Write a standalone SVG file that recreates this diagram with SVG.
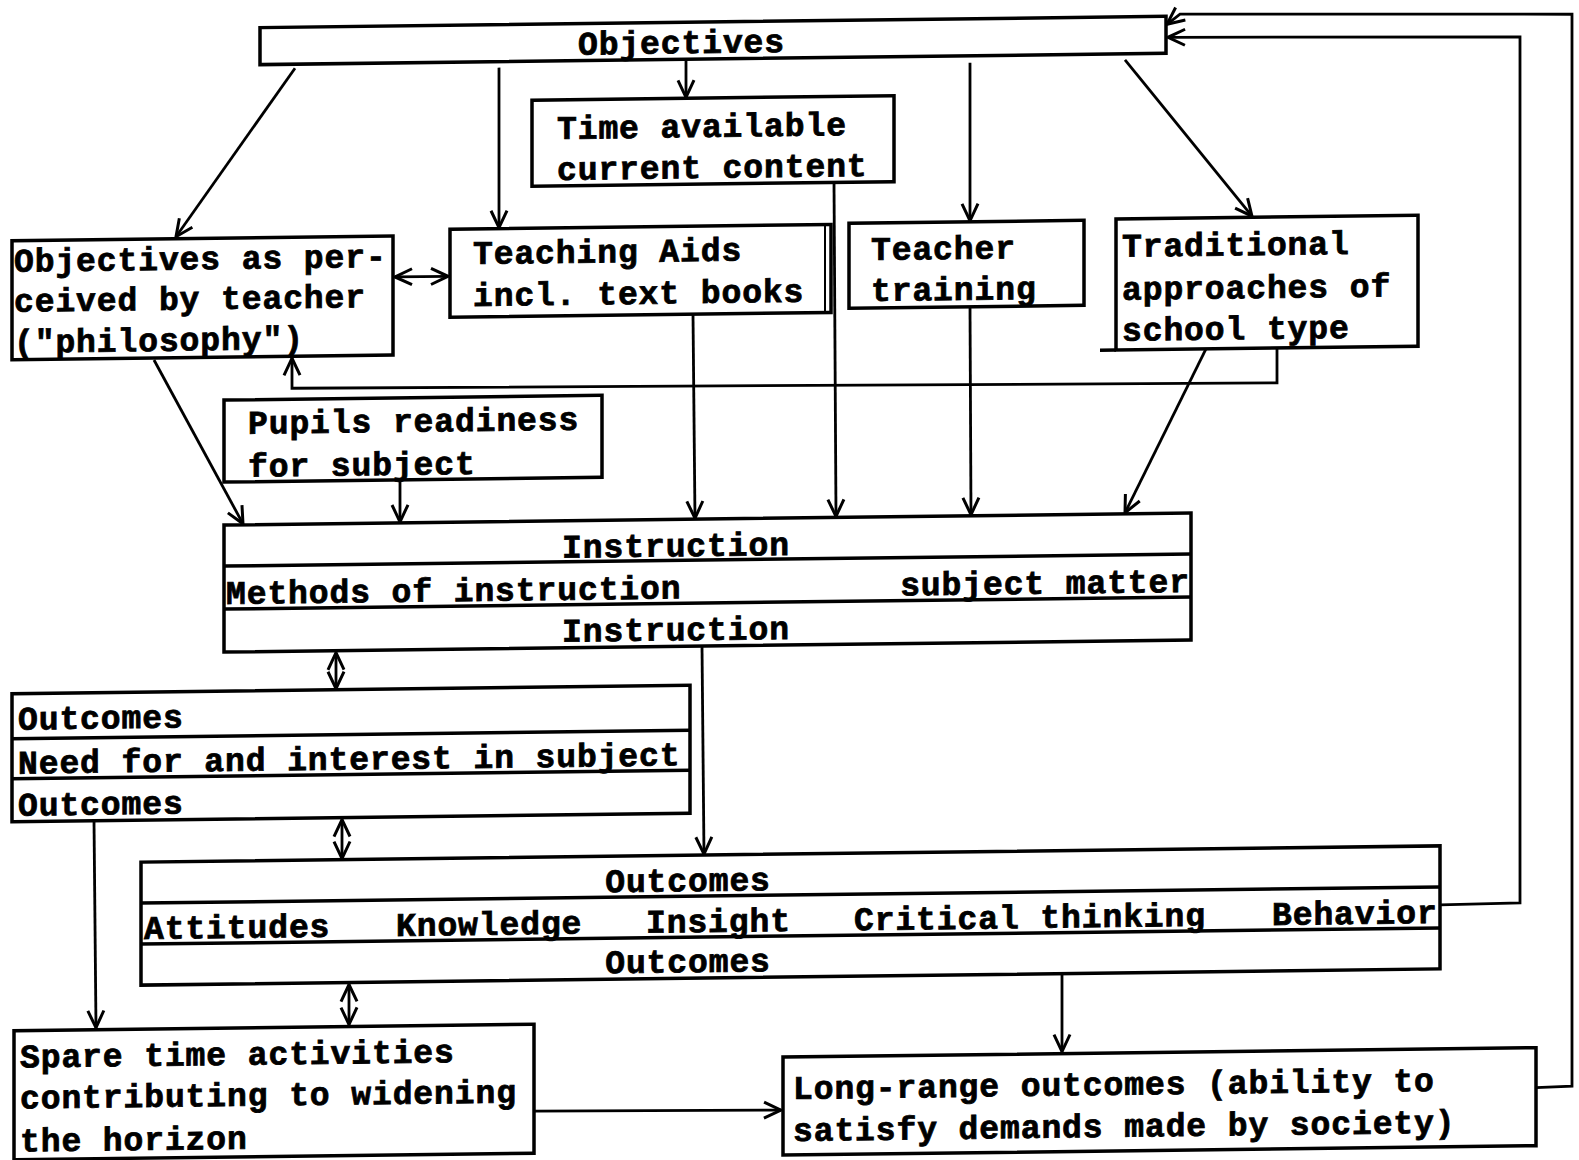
<svg xmlns="http://www.w3.org/2000/svg" width="1579" height="1160" viewBox="0 0 1579 1160">
<defs>
<marker id="ah" viewBox="0 0 20 20" refX="19" refY="10" markerWidth="20" markerHeight="20" markerUnits="userSpaceOnUse" orient="auto-start-reverse">
<path d="M2,2 L19,10 L2,18" fill="none" stroke="#000" stroke-width="3"/>
</marker>
<style>
.box{fill:#fff;stroke:#000;stroke-width:3.5}
.div{stroke:#000;stroke-width:3.5}
.c{fill:none;stroke:#000;stroke-width:2.8}
text{font-family:"Liberation Mono","Courier New",monospace;font-weight:bold;font-size:33px;letter-spacing:0.9px;fill:#000;stroke:#000;stroke-width:0.8}
.m{text-anchor:middle}
.e{text-anchor:end}
</style>
</defs>
<rect width="1579" height="1160" fill="#fff"/>
<g transform="translate(0 9.875) skewY(-0.716)">
<g id="connectors">
<path class="c" d="M686,58 L686,96" marker-end="url(#ah)"/>
<path class="c" d="M295,62 L176,229" marker-end="url(#ah)"/>
<path class="c" d="M499,64 L499,224" marker-end="url(#ah)"/>
<path class="c" d="M970,65 L970,223" marker-end="url(#ah)"/>
<path class="c" d="M1125,64 L1252,222" marker-end="url(#ah)"/>
<path class="c" d="M395,272 L448,272" marker-start="url(#ah)" marker-end="url(#ah)"/>
<path class="c" d="M1277,354 L1277,389 L292,382 L292,352" marker-end="url(#ah)"/>
<path class="c" d="M154,352 L243,517" marker-end="url(#ah)"/>
<path class="c" d="M400,475 L400,517" marker-end="url(#ah)"/>
<path class="c" d="M693,313 L695,517" marker-end="url(#ah)"/>
<path class="c" d="M834,183 L836,517" marker-end="url(#ah)"/>
<path class="c" d="M970,309 L971,517" marker-end="url(#ah)"/>
<path class="c" d="M1206,354 L1125,517" marker-end="url(#ah)"/>
<path class="c" d="M336,647 L336,683" marker-start="url(#ah)" marker-end="url(#ah)"/>
<path class="c" d="M702,645 L704,853" marker-end="url(#ah)"/>
<path class="c" d="M342,814 L342,853" marker-start="url(#ah)" marker-end="url(#ah)"/>
<path class="c" d="M1440,913 L1520,912 L1520,46 L1168,42" marker-end="url(#ah)"/>
<path class="c" d="M94,812 L96,1019" marker-end="url(#ah)"/>
<path class="c" d="M349,979 L349,1019" marker-start="url(#ah)" marker-end="url(#ah)"/>
<path class="c" d="M534,1108 L781,1110" marker-end="url(#ah)"/>
<path class="c" d="M1062,978 L1062,1055" marker-end="url(#ah)"/>
<path class="c" d="M1536,1097 L1572,1096 L1572,24 L1180,19 L1167,29" marker-end="url(#ah)"/>
</g>
<g id="objectives">
<rect class="box" x="260" y="21" width="906" height="37"/>
<text x="578" y="52">Objectives</text>
</g>
<g id="time-available">
<rect class="box" x="532" y="97" width="362" height="86"/>
<text x="557" y="136">Time available</text>
<text x="557" y="177">current content</text>
</g>
<g id="objectives-perceived">
<rect class="box" x="12" y="231" width="381" height="119"/>
<text x="14" y="262">Objectives as per-</text>
<text x="14" y="302">ceived by teacher</text>
<text x="14" y="343">("philosophy")</text>
</g>
<g id="teaching-aids">
<rect class="box" x="450" y="225" width="381" height="88"/>
<line class="div" x1="825" y1="225" x2="825" y2="313" style="stroke-width:2"/>
<text x="473" y="260">Teaching Aids</text>
<text x="473" y="302">incl. text books</text>
</g>
<g id="teacher-training">
<rect class="box" x="849" y="224" width="235" height="85"/>
<text x="871" y="261">Teacher</text>
<text x="871" y="302">training</text>
</g>
<g id="traditional">
<rect class="box" x="1116" y="223" width="302" height="131"/>
<line class="div" x1="1100" y1="354" x2="1116" y2="354"/>
<text x="1122" y="261">Traditional</text>
<text x="1122" y="304">approaches of</text>
<text x="1122" y="345">school type</text>
</g>
<g id="pupils-readiness">
<rect class="box" x="224" y="393" width="378" height="82"/>
<text x="248" y="427">Pupils readiness</text>
<text x="248" y="470">for subject</text>
</g>
<g id="instruction">
<rect class="box" x="224" y="518" width="967" height="127"/>
<line class="div" x1="224" y1="559" x2="1191" y2="559"/>
<line class="div" x1="224" y1="602" x2="1191" y2="602"/>
<text class="m" x="676" y="555">Instruction</text>
<text x="226" y="597">Methods of instruction</text>
<text class="e" x="1190" y="597">subject matter</text>
<text class="m" x="676" y="639">Instruction</text>
</g>
<g id="outcomes-interest">
<rect class="box" x="12" y="684" width="678" height="128"/>
<line class="div" x1="12" y1="729" x2="690" y2="729"/>
<line class="div" x1="12" y1="769" x2="690" y2="769"/>
<text x="18" y="720">Outcomes</text>
<text x="18" y="764">Need for and interest in subject</text>
<text x="18" y="806">Outcomes</text>
</g>
<g id="outcomes-main">
<rect class="box" x="141" y="854" width="1299" height="123"/>
<line class="div" x1="141" y1="895" x2="1440" y2="895"/>
<line class="div" x1="141" y1="936" x2="1440" y2="936"/>
<text class="m" x="688" y="890">Outcomes</text>
<text x="144" y="931">Attitudes</text>
<text x="396" y="931">Knowledge</text>
<text x="646" y="931">Insight</text>
<text x="854" y="931">Critical thinking</text>
<text x="1272" y="931">Behavior</text>
<text class="m" x="688" y="971">Outcomes</text>
</g>
<g id="spare-time">
<rect class="box" x="14" y="1021" width="520" height="129"/>
<text x="20" y="1058">Spare time activities</text>
<text x="20" y="1099">contributing to widening</text>
<text x="20" y="1142">the horizon</text>
</g>
<g id="long-range">
<rect class="box" x="783" y="1057" width="753" height="98"/>
<text x="793" y="1099">Long-range outcomes (ability to</text>
<text x="793" y="1141">satisfy demands made by society)</text>
</g>
</g>
</svg>
